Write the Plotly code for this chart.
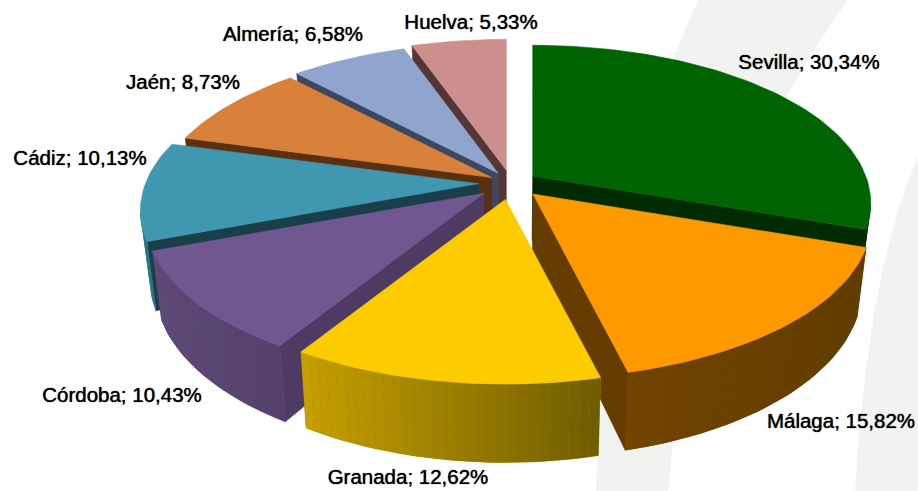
import math
import plotly.graph_objects as go

names = ["Sevilla", "Málaga", "Granada", "Córdoba", "Cádiz", "Jaén", "Almería", "Huelva"]
shares = [30.34, 15.82, 12.62, 10.43, 10.13, 8.73, 6.58, 5.33]
explode = [0.08, 0.098, 0.109, 0.105, 0.098, 0.068, 0.075, 0.086]
top_colors = ["#006400", "#ff9900", "#fccb00", "#70578f", "#4097b0", "#d9803a", "#8fa5cd", "#cd8e8e"]
side_left = ["#002b00", "#734400", "#c6a000", "#5f4a78", "#2f8397", "#5a3010", "#3d4860", "#553535"]
side_right = ["#002b00", "#613c00", "#6f5c00", "#54406a", "#1b3f4a", "#5a3010", "#3d4860", "#553535"]
radial_colors = ["#002b00", "#663d00", "#6f5c00", "#4f3a63", "#1b3f4a", "#5a3010", "#3d4860", "#553535"]
draw_order = [7, 6, 5, 4, 0, 3, 1, 2]
label_x = [809, 841, 408, 122, 80, 183, 293, 471]
label_y = [64, 423, 479, 397, 160, 84, 36, 24]

CX, CY = 511, 183
RX, RY = 333, 153
PERSP = 0.171
DEPTH = 65
BOTTOM_SCALE = 0.975
STEP_DEG = 1.5


def hex_rgb(c):
    return [int(c[i:i + 2], 16) for i in (1, 3, 5)]


def mix(a, b, t):
    ra, rb = hex_rgb(a), hex_rgb(b)
    return "rgb(%d,%d,%d)" % tuple(round(p + (q - p) * t) for p, q in zip(ra, rb))


def poly(xs, ys, color, lw=0.6):
    return go.Scatter(x=list(xs) + [xs[0]], y=list(ys) + [ys[0]], mode="lines", fill="toself",
                      fillcolor=color, line=dict(color=color, width=lw),
                      hoverinfo="skip", showlegend=False)


def low_x(p):
    return CX + (p[0] - CX) * BOTTOM_SCALE


def low_y(p):
    return p[1] + DEPTH / p[2]


fig = go.Figure()

total = sum(shares)
bounds = [0]
for s in shares:
    bounds.append(bounds[-1] + s / total * 2 * math.pi)

for i in draw_order:
    a0, a1 = bounds[i], bounds[i + 1]
    mid = (a0 + a1) / 2
    ax = CX + RX * explode[i] * math.sin(mid)
    ay = CY - RY * explode[i] * math.cos(mid)
    n = max(2, int(math.degrees(a1 - a0) / STEP_DEG))
    pts = [(ax, ay, 1.0)]
    for k in range(n + 1):
        t = a0 + (a1 - a0) * k / n
        w = 1 + PERSP * math.cos(t)
        pts.append((ax + RX * math.sin(t) / w, ay - RY * math.cos(t) / w, w))

    m = len(pts)
    xs_all = [p[0] for p in pts[1:]]
    xmin, xmax = min(xs_all), max(xs_all)
    edges = [(j, (j + 1) % m) for j in range(m)]
    radial = [edges[0], edges[-1]]
    arc = edges[1:-1]
    for (p, q) in radial:
        P, Q = pts[p], pts[q]
        if Q[0] < P[0]:
            fig.add_trace(poly([P[0], Q[0], low_x(Q), low_x(P)],
                               [P[1], Q[1], low_y(Q), low_y(P)],
                               radial_colors[i]))
    front = [(p, q) for (p, q) in arc if pts[q][0] < pts[p][0]]
    if front:
        chain = [pts[front[0][0]]] + [pts[q] for (_, q) in front]
        fig.add_trace(poly([c[0] for c in chain] + [low_x(c) for c in reversed(chain)],
                           [c[1] for c in chain] + [low_y(c) for c in reversed(chain)],
                           mix(side_left[i], side_right[i], 0.5)))
    for (p, q) in front:
        P, Q = pts[p], pts[q]
        t = ((P[0] + Q[0]) / 2 - xmin) / max(1, xmax - xmin)
        fig.add_trace(poly([P[0], Q[0], low_x(Q), low_x(P)],
                           [P[1], Q[1], low_y(Q), low_y(P)],
                           mix(side_left[i], side_right[i], t), lw=0))
    fig.add_trace(poly([p[0] for p in pts], [p[1] for p in pts], top_colors[i]))

labels = [f"{n}; {v:.2f}%".replace(".", ",") for n, v in zip(names, shares)]
fig.add_trace(go.Scatter(
    x=label_x, y=label_y, text=labels, mode="text", textposition="middle center",
    textfont=dict(family="Liberation Sans", size=20.5, color="#000000", shadow="0 0 1px #000"),
    hoverinfo="skip", showlegend=False))

band = "#f1f3f1"
fig.update_layout(
    width=918, height=491, margin=dict(l=0, r=0, t=0, b=0),
    paper_bgcolor="#ffffff", plot_bgcolor="#ffffff", showlegend=False,
    xaxis=dict(range=[0, 918], visible=False, fixedrange=True),
    yaxis=dict(range=[491, 0], visible=False, fixedrange=True),
    shapes=[
        dict(type="path", xref="x", yref="y", layer="below", line=dict(width=0), fillcolor=band,
             path="M698,0 L848,0 Q690,220 668,491 L596,491 Q606,200 698,0 Z"),
        dict(type="path", xref="x", yref="y", layer="below", line=dict(width=0), fillcolor=band,
             path="M918,157 Q868,270 855,491 L918,491 Z"),
    ],
)
fig.write_html("out.html", config={"displayModeBar": False},
               post_script="document.body.style.margin='0';document.body.style.overflow='hidden';")
